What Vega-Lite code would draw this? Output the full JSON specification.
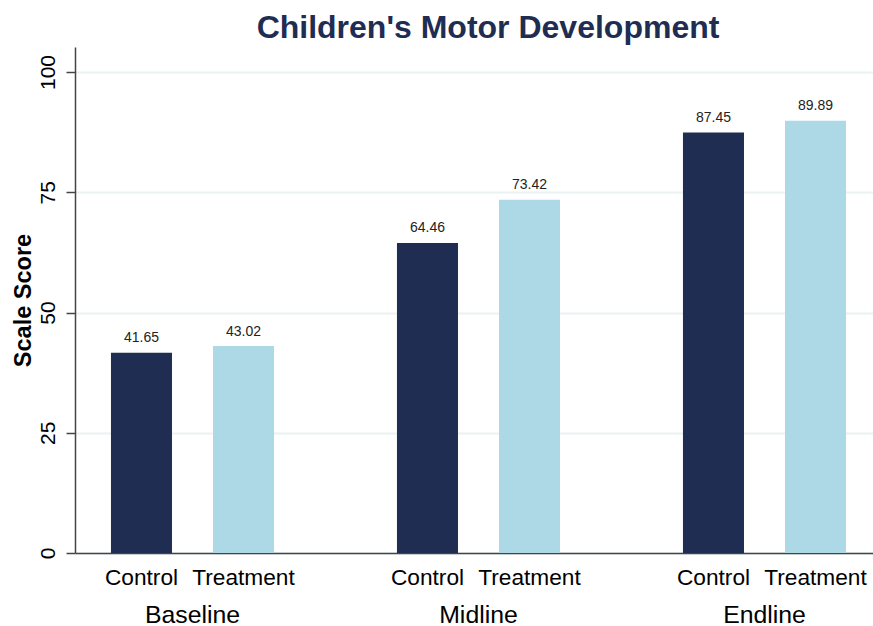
{
  "$schema": "https://vega.github.io/schema/vega-lite/v6.json",
  "autosize": "none",
  "width": 798,
  "height": 506,
  "padding": {"left": 75, "top": 47, "right": 0, "bottom": 73},
  "background": "white",
  "config": {
    "view": {"stroke": null},
    "font": "Liberation Sans"
  },
  "title": {
    "text": "Children's Motor Development",
    "font": "Liberation Sans",
    "fontSize": 32,
    "fontWeight": "bold",
    "color": "#1f2d52",
    "anchor": "middle",
    "dx": 14,
    "dy": 32,
    "baseline": "alphabetic",
    "offset": 9
  },
  "data": {
    "values": [
      {"phase": "Baseline", "arm": "Control", "score": 41.65},
      {"phase": "Baseline", "arm": "Treatment", "score": 43.02},
      {"phase": "Midline", "arm": "Control", "score": 64.46},
      {"phase": "Midline", "arm": "Treatment", "score": 73.42},
      {"phase": "Endline", "arm": "Control", "score": 87.45},
      {"phase": "Endline", "arm": "Treatment", "score": 89.89}
    ]
  },
  "encoding": {
    "x": {
      "field": "phase",
      "type": "nominal",
      "sort": ["Baseline", "Midline", "Endline"],
      "scale": {"paddingInner": 0.3007, "paddingOuter": 0.04545, "align": 0.673},
      "axis": {
        "title": null,
        "ticks": false,
        "labelAngle": 0,
        "labelFontSize": 24.8,
        "labelColor": "#000000",
        "labelBaseline": "alphabetic",
        "labelPadding": 69,
        "domainColor": "#444444",
        "domainWidth": 1.5,
        "grid": false
      }
    },
    "xOffset": {
      "field": "arm",
      "type": "nominal",
      "sort": ["Control", "Treatment"],
      "scale": {"paddingInner": 0.402, "paddingOuter": 0.181}
    }
  },
  "layer": [
    {
      "mark": {"type": "bar"},
      "encoding": {
        "y": {
          "field": "score",
          "type": "quantitative",
          "scale": {"domain": [0, 105.2], "nice": false, "zero": true},
          "axis": {
            "title": "Scale Score",
            "titleFontSize": 23.5,
            "titleFontWeight": "bold",
            "titleColor": "#000000",
            "titlePadding": 2,
            "values": [0, 25, 50, 75, 100],
            "labelAngle": -90,
            "labelAlign": "center",
            "labelBaseline": "bottom",
            "labelFontSize": 21,
            "labelColor": "#000000",
            "labelPadding": 8,
            "tickSize": 9,
            "tickColor": "#444444",
            "tickWidth": 1.5,
            "domainColor": "#444444",
            "domainWidth": 1.5,
            "grid": true,
            "gridColor": "#eaf2f3",
            "gridWidth": 2
          }
        },
        "color": {
          "field": "arm",
          "type": "nominal",
          "scale": {"domain": ["Control", "Treatment"], "range": ["#1f2d52", "#add8e6"]},
          "legend": null
        }
      }
    },
    {
      "mark": {"type": "text", "fontSize": 14, "baseline": "alphabetic", "dy": -10.5, "color": "#222222"},
      "encoding": {
        "y": {"field": "score", "type": "quantitative"},
        "text": {"field": "score", "type": "quantitative", "format": ".2f"}
      }
    },
    {
      "mark": {"type": "text", "fontSize": 22.7, "baseline": "alphabetic", "dy": 32, "color": "#000000"},
      "encoding": {
        "y": {"datum": 0},
        "text": {"field": "arm", "type": "nominal"}
      }
    }
  ]
}
